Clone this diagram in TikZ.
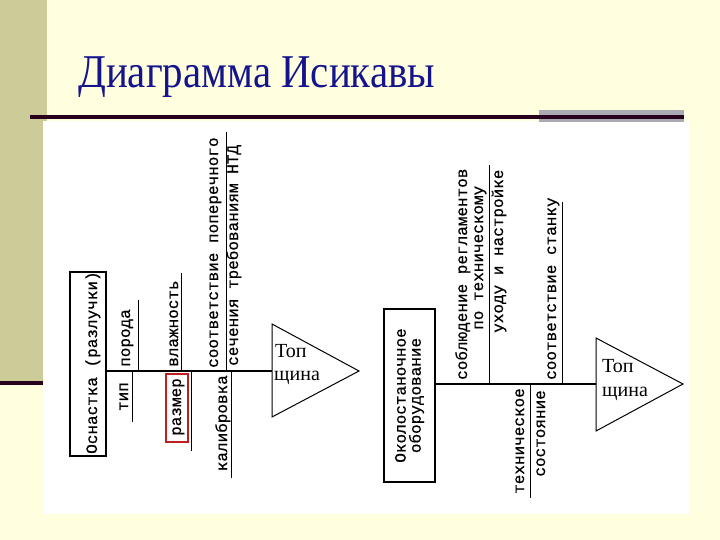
\documentclass[tikz,border=0pt]{standalone}
\usepackage{fontspec}
\setmainfont{Liberation Serif}
\newfontfamily\monof[FakeBold=0.6]{Liberation Mono}
\definecolor{cream}{RGB}{255,255,224}
\definecolor{olive}{RGB}{204,204,153}
\definecolor{graybar}{RGB}{170,170,180}
\definecolor{darkline}{RGB}{40,0,30}
\definecolor{titleblue}{RGB}{20,20,140}
\definecolor{redbox}{RGB}{190,30,30}
\begin{document}
\begin{tikzpicture}[x=1pt,y=-1pt,
  lbl/.style={font=\monof\fontsize{16}{15}\selectfont, inner sep=0pt, rotate=90},
  tri/.style={draw=black, line width=1pt, fill=white},
  spine/.style={draw=black, line width=1.8pt},
  bone/.style={draw=black, line width=1pt},
  boxs/.style={draw=black, line width=1.3pt},
  toptxt/.style={font=\fontsize{20}{20}\selectfont, inner sep=0pt}]
\useasboundingbox (0,0) rectangle (720,540);
% background
\fill[cream] (0,0) rectangle (720,540);
\fill[olive] (0,0) rectangle (47,384);
\fill[darkline] (0,381) rectangle (43,385);
\fill[white] (43,121) rectangle (689,514);
\fill[graybar] (539,110) rectangle (684,122);
\fill[darkline] (30,115.5) rectangle (684,119);
% title
\node[anchor=base west, text=titleblue, inner sep=0pt, font=\fontsize{47}{47}\selectfont] (title) at (78,88) {\scalebox{0.87}[1]{Диаграмма Исикавы}};

% ---------- diagram 1 ----------
\coordinate (b1a) at (70,272);
\coordinate (b1b) at (106,456);
\draw[boxs] (b1a) rectangle (b1b);
\begin{scope}
\clip (b1a) rectangle (b1b);
\node[lbl, anchor=base west] (box1) at (97,454) {Оснастка (разлучки)};
\end{scope}
\coordinate (s1a) at (106,371);
\coordinate (s1b) at (272,371);
\draw[spine] (s1a) -- (s1b);
\draw[tri] (272,324) -- (359,371) -- (272,417) -- cycle;
\node[toptxt, anchor=base west] (t1a) at (275,357) {Топ};
\node[toptxt, anchor=base west] (t1b) at (274,380) {щина};
% upper bones
\coordinate (p1) at (138,300); \coordinate (p1s) at (138,371);
\draw[bone] (p1) -- (p1s);
\node[lbl, anchor=base west] (poroda) at (130,367) {порода};
\coordinate (p2) at (181,273); \coordinate (p2s) at (181,371);
\draw[bone] (p2) -- (p2s);
\node[lbl, anchor=base west] (vlazh) at (178,367) {влажность};
\coordinate (p3) at (226,132); \coordinate (p3s) at (226,371);
\draw[bone] (p3) -- (p3s);
\node[lbl, anchor=base west] (soot1) at (218,368) {соответствие поперечного};
\node[lbl, anchor=base west] (sech) at (238,366) {сечения требованиям НТД};
% lower bones
\coordinate (q1) at (132,422); \coordinate (q1s) at (132,371);
\draw[bone] (q1s) -- (q1);
\node[lbl, anchor=base east] (tip) at (128,382) {тип};
\coordinate (q2) at (191,451); \coordinate (q2s) at (191,371);
\draw[bone] (q2s) -- (q2);
\draw[redbox, line width=1.3pt] (166,374) rectangle (188,442);
\node[lbl, anchor=base east] (razmer) at (181,378) {размер};
\coordinate (q3) at (231,478); \coordinate (q3s) at (231,371);
\draw[bone] (q3s) -- (q3);
\node[lbl, anchor=base east] (kalib) at (227,375) {калибровка};

% ---------- diagram 2 ----------
\draw[boxs] (384,309) rectangle (435,482);
\node[lbl, align=center] (box2) at (409.5,395.5) {Околостаночное\\оборудование};
\coordinate (s2a) at (435,384);
\coordinate (s2b) at (596,384);
\draw[spine] (s2a) -- (s2b);
\draw[tri] (596,338) -- (683,384) -- (596,431) -- cycle;
\node[toptxt, anchor=base west] (t2a) at (602,372) {Топ};
\node[toptxt, anchor=base west] (t2b) at (602,396) {щина};
% upper bones
\coordinate (r1) at (489,165); \coordinate (r1s) at (489,384);
\draw[bone] (r1) -- (r1s);
\node[lbl, anchor=base west] (sobl) at (467,380) {соблюдение регламентов};
\node[lbl, anchor=base west] (potech) at (483,330) {по техническому};
\node[lbl, anchor=base west] (uhod) at (503,333) {уходу и настройке};
\coordinate (r2) at (562,202); \coordinate (r2s) at (562,384);
\draw[bone] (r2) -- (r2s);
\node[lbl, anchor=base west] (stanku) at (556,380) {соответствие станку};
% lower bone
\coordinate (u1) at (530,498); \coordinate (u1s) at (530,384);
\draw[bone] (u1s) -- (u1);
\node[lbl, anchor=base east] (tehn) at (524,388) {техническое};
\node[lbl, anchor=base east] (sost) at (545,390) {состояние};
\end{tikzpicture}
\end{document}
